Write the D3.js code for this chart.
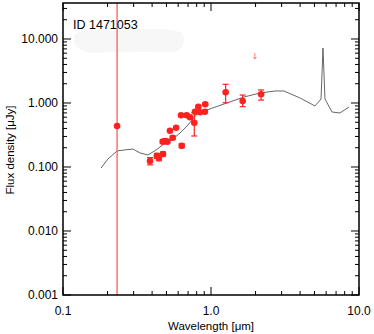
<!DOCTYPE html>
<html><head><meta charset="utf-8">
<script src="https://cdn.jsdelivr.net/npm/d3@7"></script>
<style>body{margin:0;background:#fff}svg{display:block}text{font-family:"Liberation Sans",Arial,sans-serif;fill:#000}</style>
</head><body><svg id="c" width="374" height="334"></svg>
<script>
// ---- data ----
const objectId = "ID 1471053";
const obsWave = [0.232,0.387,0.431,0.445,0.474,0.472,0.491,0.507,0.551,0.528,0.581,0.634,0.627,0.685,0.721,0.771,0.779,0.821,0.843,0.910,0.914,1.256,1.637,2.18];
const obsFlux = [0.437,0.124,0.149,0.138,0.160,0.249,0.255,0.249,0.287,0.369,0.411,0.215,0.643,0.643,0.598,0.492,0.731,0.875,0.716,0.731,0.955,1.47,1.07,1.37];
const obsLo   = [0.437,0.108,0.136,0.125,0.148,0.236,0.243,0.236,0.270,0.360,0.400,0.200,0.620,0.620,0.580,0.305,0.710,0.850,0.700,0.715,0.930,1.01,0.875,1.11];
const obsHi   = [0.437,0.140,0.163,0.150,0.172,0.262,0.268,0.262,0.305,0.380,0.422,0.230,0.665,0.665,0.615,0.70,0.750,0.900,0.735,0.750,0.980,1.96,1.33,1.60];
const limWave = [1.98];
const limFlux = [5.23];
const modelWave = [0.181,0.201,0.232,0.258,0.297,0.331,0.375,0.425,0.481,0.553,0.618,0.689,0.805,0.940,1.28,1.67,2.14,2.71,3.11,3.99,5.04,5.54,5.71,5.89,6.57,7.44,8.56];
const modelFlux = [0.0964,0.133,0.178,0.184,0.191,0.166,0.154,0.184,0.229,0.274,0.340,0.437,0.673,0.778,1.0,1.24,1.43,1.54,1.54,1.20,0.898,1.155,7.23,1.155,0.723,0.698,0.866];
const lineWave = 0.232;
const xTickVals = [0.1,1,10];
const xTickLabels = ["0.1","1.0","10.0"];
const yTickVals = [0.001,0.01,0.1,1,10];
const yTickLabels = ["0.001","0.010","0.100","1.000","10.000"];

const svg = d3.select("#c");
const L=63,R=359,T=3,B=295;
const x = d3.scaleLog().domain([0.1,10]).range([L,R]);
const y = d3.scaleLog().domain([0.001,36.5]).range([B,T]);

// faint blob
svg.append("path").attr("d","M74,36 C76,28 100,30 120,31 C140,29 170,27 182,33 C186,40 184,48 176,52 C150,53 120,50 100,53 C84,54 72,48 74,36 Z")
  .attr("fill","#f7f7f7");

// minor ticks lists
const xMinor=[]; [0.1,1].forEach(d=>{for(let k=2;k<=9;k++) xMinor.push(d*k);});
const yMinor=[]; [0.001,0.01,0.1,1,10].forEach(d=>{for(let k=2;k<=9;k++){ if(d*k<=36.5) yMinor.push(d*k);} });

const g = svg.append("g");
function ticks(vals,len,orient){
  vals.forEach(v=>{
    if(orient==="b"){ g.append("line").attr("x1",x(v)).attr("x2",x(v)).attr("y1",B).attr("y2",B-len); }
    if(orient==="t"){ g.append("line").attr("x1",x(v)).attr("x2",x(v)).attr("y1",T).attr("y2",T+len); }
    if(orient==="l"){ g.append("line").attr("y1",y(v)).attr("y2",y(v)).attr("x1",L).attr("x2",L+len); }
    if(orient==="r"){ g.append("line").attr("y1",y(v)).attr("y2",y(v)).attr("x1",R).attr("x2",R-len); }
  });
}
ticks(xTickVals,8,"b");ticks(xTickVals,8,"t");ticks(xMinor,4,"b");ticks(xMinor,4,"t");
ticks(yTickVals,8,"l");ticks(yTickVals,8,"r");ticks(yMinor,4,"l");ticks(yMinor,4,"r");
g.selectAll("line").attr("stroke","#000").attr("stroke-width",1);

// model
svg.append("path").datum(modelWave.map((w,i)=>[w,modelFlux[i]]))
  .attr("d",d3.line().x(d=>x(d[0])).y(d=>y(d[1])))
  .attr("fill","none").attr("stroke","#555").attr("stroke-width",0.9);

// vertical line
svg.append("line").attr("x1",x(lineWave)).attr("x2",x(lineWave)).attr("y1",T).attr("y2",B)
  .attr("stroke","#ff5a5a").attr("stroke-width",1.3);

// error bars
const red="#ff2020";
obsWave.forEach((w,i)=>{
  if(obsHi[i]===obsLo[i]) return;
  const cx=x(w);
  svg.append("line").attr("x1",cx).attr("x2",cx).attr("y1",y(obsLo[i])).attr("y2",y(obsHi[i])).attr("stroke",red).attr("stroke-width",1.2);
  [obsLo[i],obsHi[i]].forEach(v=>svg.append("line").attr("x1",cx-3).attr("x2",cx+3).attr("y1",y(v)).attr("y2",y(v)).attr("stroke",red).attr("stroke-width",1.2));
});
svg.selectAll("circle.p").data(obsWave).enter().append("circle")
  .attr("cx",d=>x(d)).attr("cy",(d,i)=>y(obsFlux[i])).attr("r",3.3).attr("fill",red);

// upper limit arrow
limWave.forEach((w,i)=>{
  const cx=x(w), cy=y(limFlux[i]);
  svg.append("path").attr("d",`M${cx},${cy-4}L${cx},${cy+2}M${cx-1.5},${cy}L${cx},${cy+2}L${cx+1.5},${cy}`)
    .attr("stroke","#ff6060").attr("fill","none").attr("stroke-width",0.8);
});

// axes frame
svg.append("rect").attr("x",L).attr("y",T).attr("width",R-L).attr("height",B-T)
  .attr("fill","none").attr("stroke","#000").attr("stroke-width",1.5);

// labels
xTickVals.forEach((v,i)=>svg.append("text").attr("x",x(v)).attr("y",315).attr("text-anchor","middle").attr("font-size",12).text(xTickLabels[i]));
yTickVals.forEach((v,i)=>svg.append("text").attr("x",58).attr("y",y(v)+4).attr("text-anchor","end").attr("font-size",12).text(yTickLabels[i]));
svg.append("text").attr("x",211).attr("y",330).attr("text-anchor","middle").attr("font-size",11.5).text("Wavelength [\u03bcm]");
svg.append("text").attr("transform","translate(14,150) rotate(-90)").attr("text-anchor","middle").attr("font-size",11.5).text("Flux density [\u03bcJy]");
svg.append("text").attr("x",73).attr("y",29).attr("font-size",12.5).text(objectId);
</script></body></html>
